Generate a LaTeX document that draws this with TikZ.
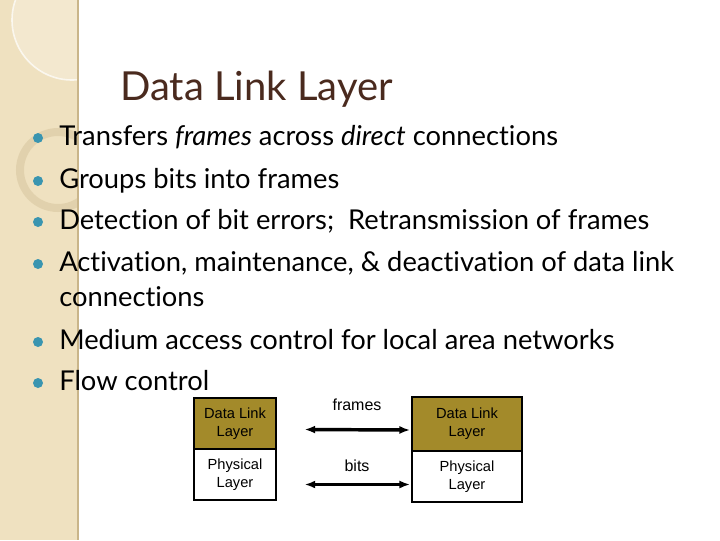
\documentclass[tikz,border=0pt]{standalone}
\usepackage{fontspec}
\usetikzlibrary{arrows.meta}
\setmainfont{Lato}[RawFeature=-liga]
\newfontfamily\arial{Liberation Sans}
\definecolor{beige}{HTML}{EFE1C0}
\definecolor{strip}{HTML}{C9B58A}
\definecolor{titlec}{HTML}{4A2A1E}
\definecolor{teal}{HTML}{3A95B0}
\definecolor{olive}{HTML}{A38A2A}
\begin{document}
\begin{tikzpicture}[x=0.75pt,y=-0.75pt,
  bul/.style={anchor=base west,font=\fontsize{20.5}{24}\selectfont,inner sep=0pt},
  dot/.style={circle,fill=teal,inner sep=0pt,minimum size=7.5pt},
  lay/.style={draw,thick,align=center,font=\arial\fontsize{11}{13.5}\selectfont,inner sep=0pt},
  arr/.style={{Latex[length=8pt]}-{Latex[length=8pt]},line width=2.6pt}]
\useasboundingbox (0,0) rectangle (720,540);
\fill[white] (0,0) rectangle (720,540);
\fill[beige] (0,0) rectangle (78,540);
\begin{scope}
\clip (0,0) rectangle (78,540);
\draw[white,opacity=0.7,line width=1.2pt] (72,20) circle (60);
\fill[white,opacity=0.25] (72,20) circle (60);
\draw[strip,opacity=0.35,line width=6pt] (58,170) circle (38);
\end{scope}
\draw[strip,line width=1pt] (78,0) -- (78,540);
\node[anchor=base west,text=titlec,font=\fontsize{30}{34}\selectfont,inner sep=0pt] (title) at (120,100) {Data Link Layer};
\foreach \y/\t [count=\i] in {145/{Transfers \textit{frames} across \textit{direct} connections},188/Groups bits into frames,229/{Detection of bit errors;\ \ Retransmission of frames},271/{Activation, maintenance, \& deactivation of data link},349/Medium access control for local area networks,390/Flow control}{
  \node[bul] (b\i) at (59,\y) {\t};
  \node[dot] (d\i) at (38,\y-7) {};
}
\node[bul] (b4b) at (59,306) {connections};
\node[lay,fill=olive,minimum width=82*0.75pt,minimum height=51*0.75pt] (dl1) at (235,423.5) {Data Link\\Layer};
\node[lay,minimum width=82*0.75pt,minimum height=51*0.75pt] (ph1) at (235,474.5) {Physical\\Layer};
\node[lay,fill=olive,minimum width=110*0.75pt,minimum height=54*0.75pt] (dl2) at (467,424) {Data Link\\Layer};
\node[lay,minimum width=110*0.75pt,minimum height=51*0.75pt] (ph2) at (467,476.5) {Physical\\Layer};
\node[font=\arial\fontsize{12}{14}\selectfont] (fr) at (357,405) {frames};
\node[font=\arial\fontsize{12}{14}\selectfont] (bi) at (357,466) {bits};
\draw[arr] ([xshift=28*0.75pt,yshift=-6*0.75pt]dl1.east) -- ([xshift=-1pt,yshift=-6*0.75pt]dl2.west);
\draw[arr] ([xshift=28*0.75pt,yshift=-10*0.75pt]ph1.east) -- ([xshift=-1pt,yshift=-8*0.75pt]ph2.west);
\end{tikzpicture}
\end{document}
